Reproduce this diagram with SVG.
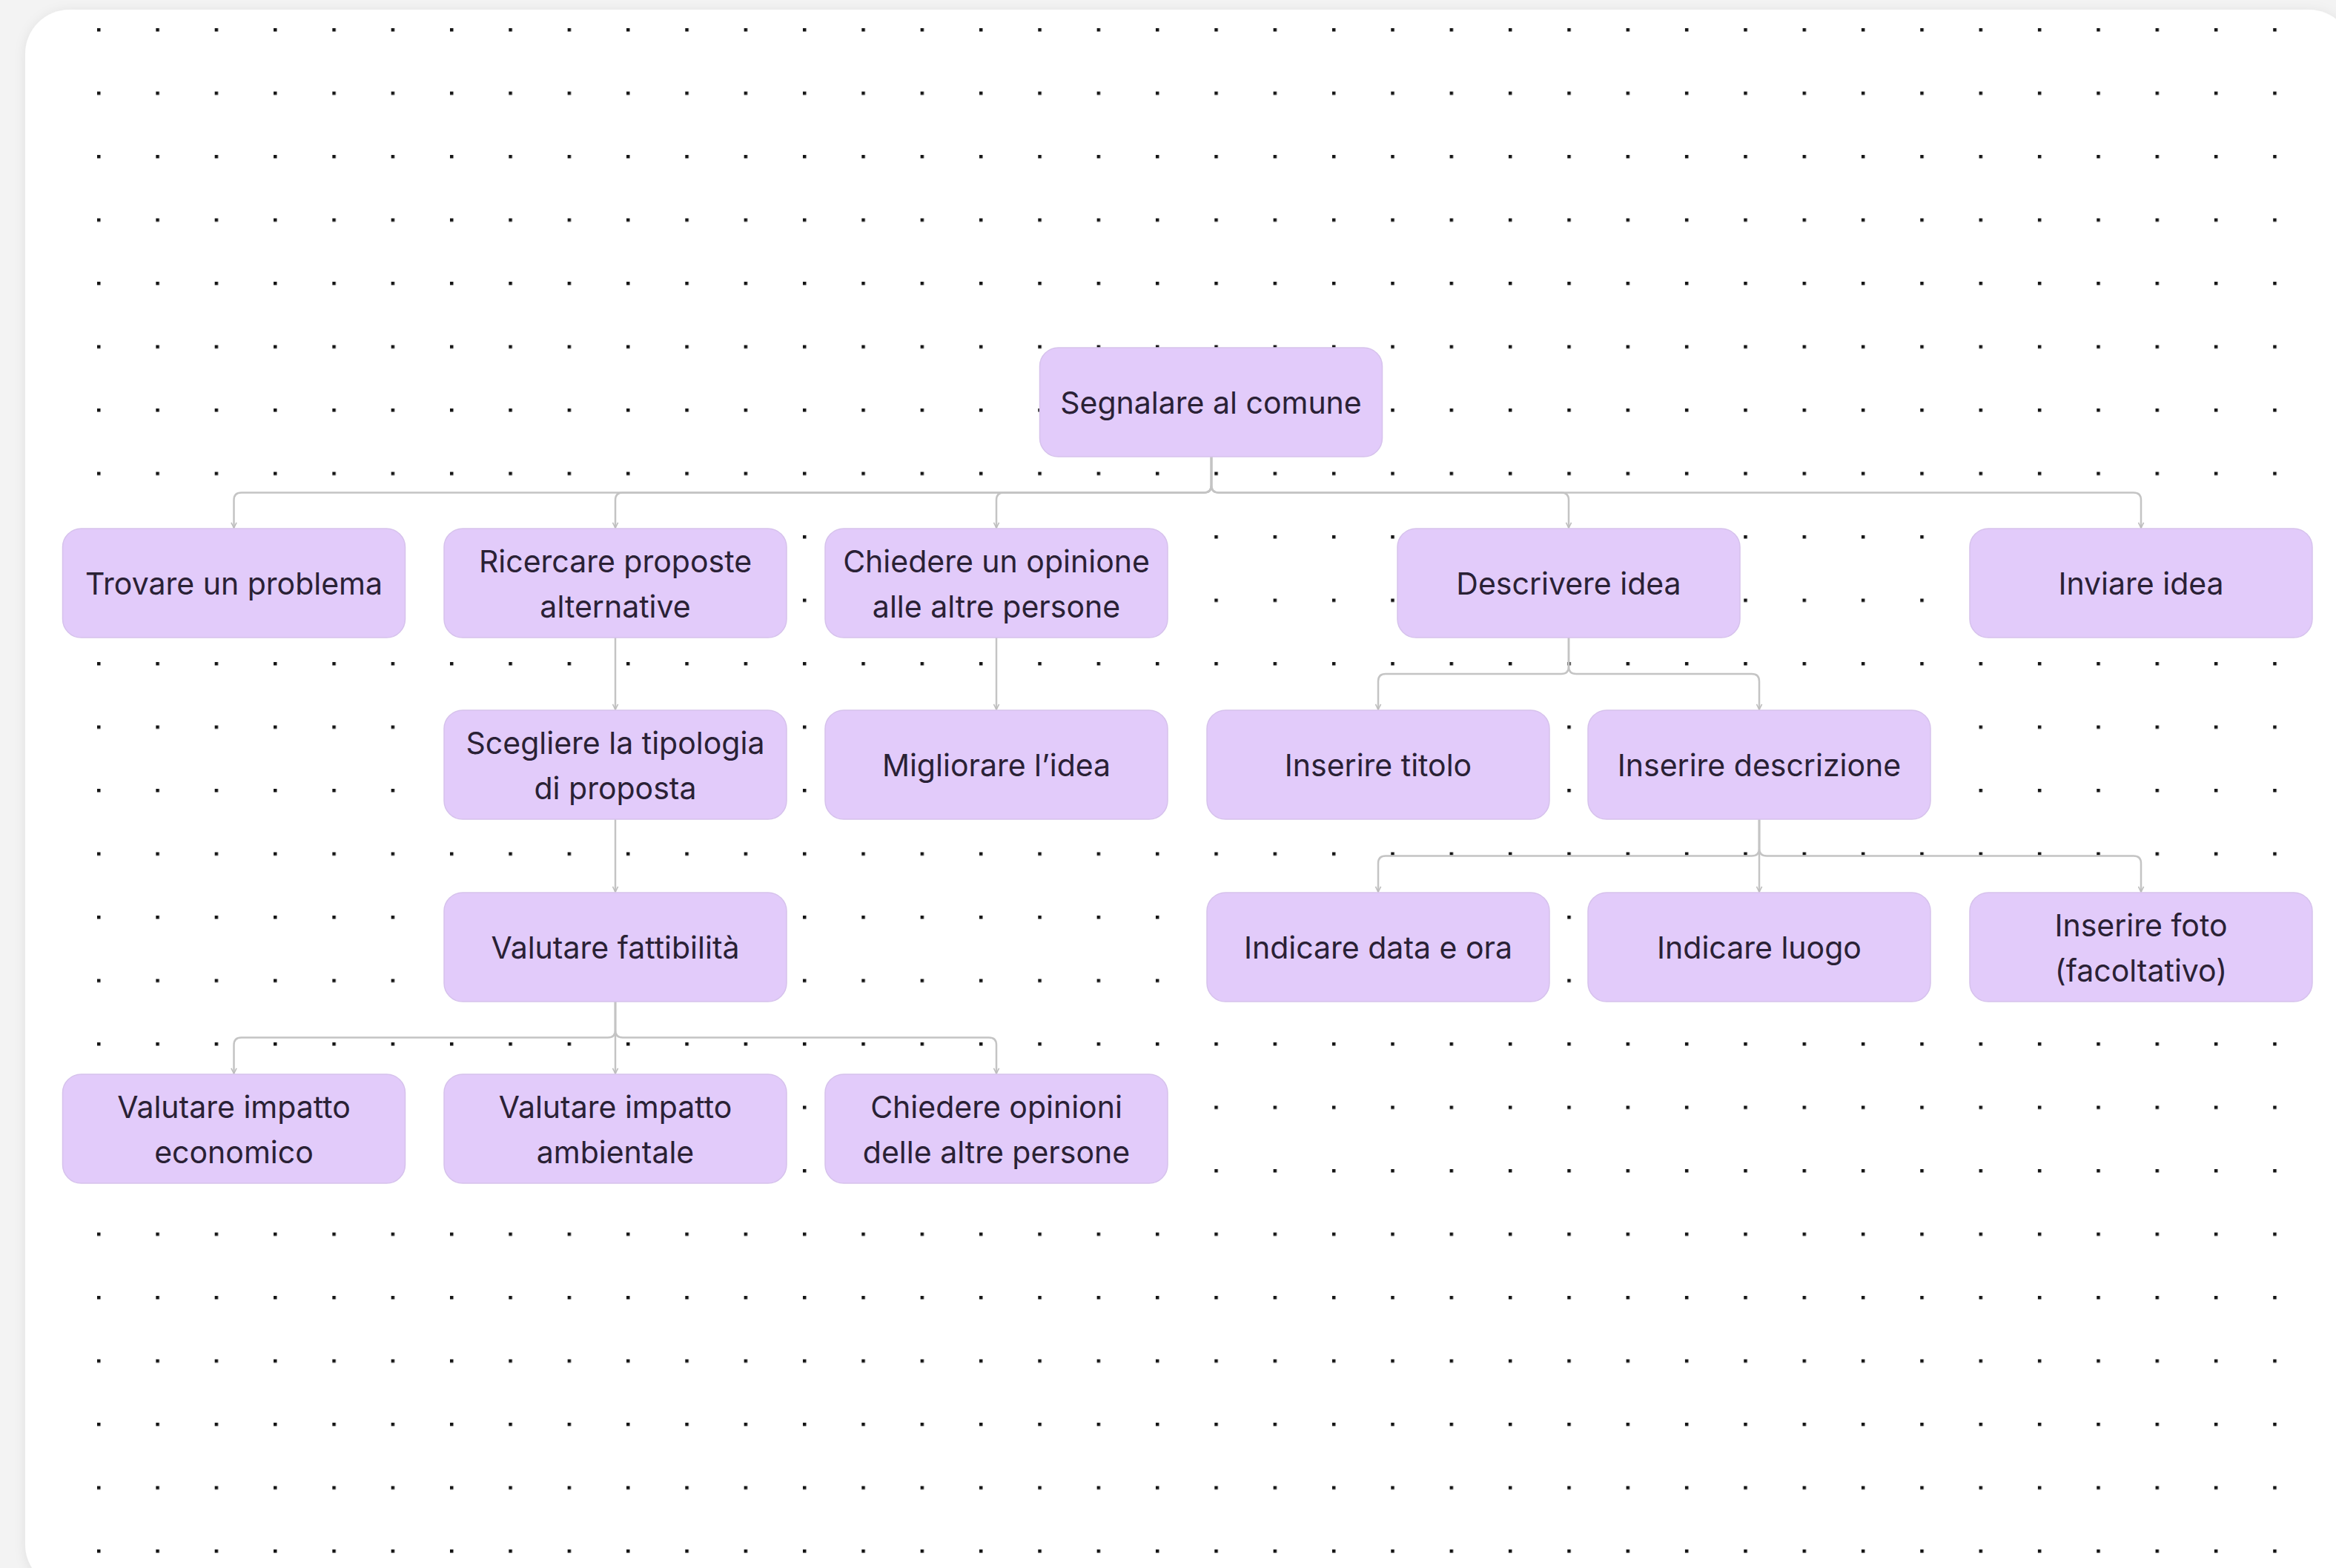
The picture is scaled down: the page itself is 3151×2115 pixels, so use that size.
<svg xmlns="http://www.w3.org/2000/svg" width="3151" height="2115" viewBox="0 0 3151 2115">
  <defs>
    <pattern id="dots" patternUnits="userSpaceOnUse" x="93.33" y="-2.75" width="79.33" height="85.5">
      <rect x="37.67" y="40.75" width="4.5" height="4.5" fill="#141414"/>
    </pattern>
    <filter id="cardShadow" x="-5%" y="-5%" width="110%" height="110%">
      <feDropShadow dx="0" dy="2" stdDeviation="8" flood-color="#000" flood-opacity="0.08"/>
    </filter>
    <marker id="arrow" viewBox="0 0 10 10" refX="9" refY="5" markerWidth="9" markerHeight="9" markerUnits="userSpaceOnUse" orient="auto">
      <path d="M1,1 L9,5 L1,9" fill="none" stroke="#bdbdbd" stroke-width="1.8"/>
    </marker>
    <style>
      .node rect { fill: #e2cbfa; stroke: #d6c2ec; stroke-width: 1.5; }
      .node text { font-family: Inter, "Liberation Sans", sans-serif; font-size: 41px; fill: #2a2135; text-anchor: middle; }
      .conn path { fill: none; stroke: #c4c4c4; stroke-width: 2.5; marker-end: url(#arrow); }
    </style>
  </defs>

  <rect x="0" y="0" width="3151" height="2115" fill="#f3f3f3"/>
  <rect x="34" y="13" width="3140" height="2130" rx="60" fill="#ffffff" filter="url(#cardShadow)"/>
  <rect x="93.33" y="0" width="3014.6" height="2115" fill="url(#dots)"/>

  <g id="connectors" class="conn">
    <!-- root to row 2 (bus y=664.5) -->
    <path d="M1634,616 V654.5 Q1634,664.5 1624,664.5 H325.5 Q315.5,664.5 315.5,674.5 V712"/>
    <path d="M1634,616 V654.5 Q1634,664.5 1624,664.5 H840 Q830,664.5 830,674.5 V712"/>
    <path d="M1634,616 V654.5 Q1634,664.5 1624,664.5 H1354 Q1344,664.5 1344,674.5 V712"/>
    <path d="M1634,616 V654.5 Q1634,664.5 1644,664.5 H2106 Q2116,664.5 2116,674.5 V712"/>
    <path d="M1634,616 V654.5 Q1634,664.5 1644,664.5 H2878 Q2888,664.5 2888,674.5 V712"/>
    <!-- straight verticals -->
    <path d="M830,860 V957"/>
    <path d="M1344,860 V957"/>
    <path d="M830,1105 V1203"/>
    <!-- Descrivere idea to row 3 (bus y=909) -->
    <path d="M2116,860 V899 Q2116,909 2106,909 H1869 Q1859,909 1859,919 V957"/>
    <path d="M2116,860 V899 Q2116,909 2126,909 H2363 Q2373,909 2373,919 V957"/>
    <!-- Inserire descrizione to row 4 (bus y=1154.5) -->
    <path d="M2373,1105 V1144.5 Q2373,1154.5 2363,1154.5 H1869 Q1859,1154.5 1859,1164.5 V1203"/>
    <path d="M2373,1105 V1203"/>
    <path d="M2373,1105 V1144.5 Q2373,1154.5 2383,1154.5 H2878 Q2888,1154.5 2888,1164.5 V1203"/>
    <!-- Valutare fattibilita to row 5 (bus y=1399.5) -->
    <path d="M830,1350 V1389.5 Q830,1399.5 820,1399.5 H325.5 Q315.5,1399.5 315.5,1409.5 V1448"/>
    <path d="M830,1350 V1448"/>
    <path d="M830,1350 V1389.5 Q830,1399.5 840,1399.5 H1334 Q1344,1399.5 1344,1409.5 V1448"/>
  </g>

  <g id="n-segnalare" class="node">
    <rect x="1402.5" y="469" width="462" height="147" rx="25"/>
    <text x="1633.5" y="558">Segnalare al comune</text>
  </g>

  <g id="n-trovare" class="node">
    <rect x="84.5" y="713" width="462" height="147" rx="25"/>
    <text x="315.5" y="802">Trovare un problema</text>
  </g>
  <g id="n-ricercare" class="node">
    <rect x="599" y="713" width="462" height="147" rx="25"/>
    <text x="830" y="772">Ricercare proposte</text>
    <text x="830" y="833">alternative</text>
  </g>
  <g id="n-chiedere1" class="node">
    <rect x="1113" y="713" width="462" height="147" rx="25"/>
    <text x="1344" y="772">Chiedere un opinione</text>
    <text x="1344" y="833">alle altre persone</text>
  </g>
  <g id="n-descrivere" class="node">
    <rect x="1885" y="713" width="462" height="147" rx="25"/>
    <text x="2116" y="802">Descrivere idea</text>
  </g>
  <g id="n-inviare" class="node">
    <rect x="2657" y="713" width="462" height="147" rx="25"/>
    <text x="2888" y="802">Inviare idea</text>
  </g>

  <g id="n-scegliere" class="node">
    <rect x="599" y="958" width="462" height="147" rx="25"/>
    <text x="830" y="1017">Scegliere la tipologia</text>
    <text x="830" y="1078">di proposta</text>
  </g>
  <g id="n-migliorare" class="node">
    <rect x="1113" y="958" width="462" height="147" rx="25"/>
    <text x="1344" y="1047">Migliorare l’idea</text>
  </g>
  <g id="n-titolo" class="node">
    <rect x="1628" y="958" width="462" height="147" rx="25"/>
    <text x="1859" y="1047">Inserire titolo</text>
  </g>
  <g id="n-descrizione" class="node">
    <rect x="2142" y="958" width="462" height="147" rx="25"/>
    <text x="2373" y="1047">Inserire descrizione</text>
  </g>

  <g id="n-fattibilita" class="node">
    <rect x="599" y="1204" width="462" height="147" rx="25"/>
    <text x="830" y="1293">Valutare fattibilità</text>
  </g>
  <g id="n-data" class="node">
    <rect x="1628" y="1204" width="462" height="147" rx="25"/>
    <text x="1859" y="1293">Indicare data e ora</text>
  </g>
  <g id="n-luogo" class="node">
    <rect x="2142" y="1204" width="462" height="147" rx="25"/>
    <text x="2373" y="1293">Indicare luogo</text>
  </g>
  <g id="n-foto" class="node">
    <rect x="2657" y="1204" width="462" height="147" rx="25"/>
    <text x="2888" y="1263">Inserire foto</text>
    <text x="2888" y="1324">(facoltativo)</text>
  </g>

  <g id="n-economico" class="node">
    <rect x="84.5" y="1449" width="462" height="147" rx="25"/>
    <text x="315.5" y="1508">Valutare impatto</text>
    <text x="315.5" y="1569">economico</text>
  </g>
  <g id="n-ambientale" class="node">
    <rect x="599" y="1449" width="462" height="147" rx="25"/>
    <text x="830" y="1508">Valutare impatto</text>
    <text x="830" y="1569">ambientale</text>
  </g>
  <g id="n-chiedere2" class="node">
    <rect x="1113" y="1449" width="462" height="147" rx="25"/>
    <text x="1344" y="1508">Chiedere opinioni</text>
    <text x="1344" y="1569">delle altre persone</text>
  </g>
</svg>
